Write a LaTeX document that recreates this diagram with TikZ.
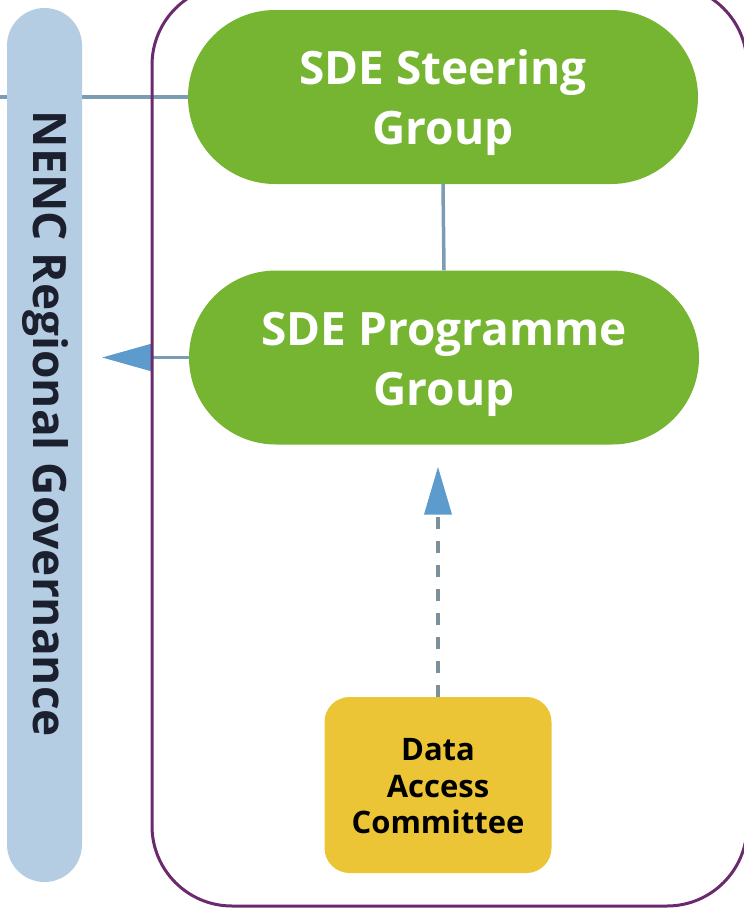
\documentclass[tikz,border=0pt]{standalone}
\usepackage{fontspec}
\setmainfont{Open Sans}
\usetikzlibrary{arrows.meta}
\definecolor{sdegreen}{HTML}{76B531}
\definecolor{barblue}{HTML}{B4CDE3}
\definecolor{framepurple}{HTML}{6A2A6D}
\definecolor{dacyellow}{HTML}{EBC535}
\definecolor{linkgrey}{HTML}{7A9DB5}
\definecolor{dashgrey}{HTML}{7D8F99}
\definecolor{tipblue}{HTML}{5C9BCB}
\definecolor{navytext}{HTML}{1B1F2E}
% centred lines of text, lowered inside the box without changing its size
\newcommand{\nudged}[2]{\raisebox{-#1}[\height][\depth]{\begin{tabular}{@{}c@{}}#2\end{tabular}}}
\tikzset{
  group/.style={fill=sdegreen, rounded corners=87pt, minimum width=510pt,
    minimum height=174pt, text=white, font=\fontsize{46}{60}\selectfont\bfseries,
    inner sep=0pt},
  dacbox/.style={fill=dacyellow, rounded corners=25pt, minimum width=227pt,
    minimum height=176pt, text=black, font=\fontsize{31}{36.5}\selectfont\bfseries,
    inner sep=0pt},
  link/.style={draw=linkgrey, line width=3.5pt},
  dashlink/.style={draw=dashgrey, line width=4pt, dash pattern=on 12pt off 12pt},
}
\begin{document}
\begin{tikzpicture}[x=1pt,y=-1pt]
\useasboundingbox (0,0) rectangle (744,908);

% nodes of the programme
\node[group] (steer) at (443,97) {\nudged{5.5pt}{SDE Steering\\Group}};
\node[group] (prog) at (444,357.5) {\nudged{5.5pt}{SDE Programme\\Group}};
\node[dacbox] (dac) at (438,785) {\nudged{5pt}{Data\\Access\\Committee}};

% free ends of the links
\coordinate (leftedge) at (0,97);
\coordinate (tipL) at (102,357.5);

% link to the regional governance, behind the bar
\draw[link] (leftedge) -- (steer.west);

% regional governance bar
\fill[barblue, rounded corners=37.5pt] (7,8) rectangle (82,882);
\node[rotate=-90, text=navytext, font=\fontsize{46}{50}\selectfont\bfseries,
  inner sep=0pt] (nenc) at (45,424) {NENC Regional Governance};

% links between the groups
\draw[link] (steer.south) -- (prog.north);
\draw[link, -{Triangle[length=50pt,width=27pt,color=tipblue]}] (prog.west) -- (tipL);
\draw[dashlink, shorten >=22pt, -{Triangle[length=48pt,width=27pt,color=tipblue]}]
  (dac.north) -- (dac.north |- prog.south);

% outer frame
\draw[framepurple, line width=3pt, rounded corners=80pt] (152,-15) rectangle (747,906);
\end{tikzpicture}
\end{document}
